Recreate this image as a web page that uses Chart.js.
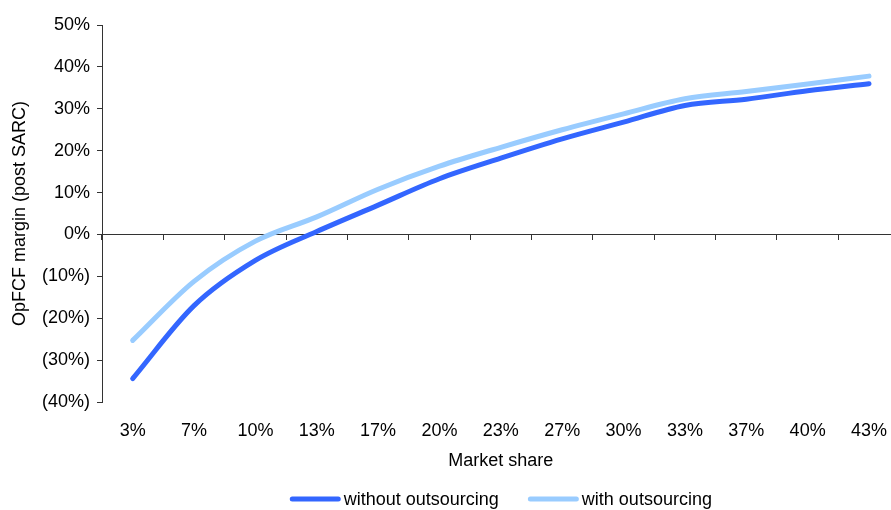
<!DOCTYPE html>
<html>
<head>
<meta charset="utf-8">
<script src="https://cdn.jsdelivr.net/npm/chart.js@4.4.1/dist/chart.umd.min.js"></script>
<style>
  html, body { margin: 0; padding: 0; background: #fff; overflow: hidden; width: 891px; height: 510px; }
  #wrap { width: 905px; height: 510px; }
</style>
</head>
<body>
<div id="wrap"><canvas id="c" width="905" height="510"></canvas></div>
<script>
// Market share categories (x axis)
const marketShare = ['3%', '7%', '10%', '13%', '17%', '20%', '23%', '27%', '30%', '33%', '37%', '40%', '43%'];
// OpFCF margin (post SARC), in percent
const withoutOutsourcing = [-34.4, -17.0, -6.2, 0.7, 7.0, 13.3, 18.2, 22.8, 26.8, 30.8, 32.3, 34.3, 36.0];
const withOutsourcing = [-25.3, -11.2, -1.6, 4.2, 10.8, 16.3, 20.8, 25.0, 28.8, 32.4, 34.1, 35.9, 37.8];
// Y axis range and step
const yMin = -40, yMax = 50, yStep = 10;

const FONT = 'Liberation Sans, Arial, sans-serif';
const FONT_SIZE = 18;

// Legend drawn under the plot, centred on the plotting area
const bottomLegend = {
  id: 'bottomLegend',
  afterDraw(chart) {
    const ctx = chart.ctx;
    const area = chart.chartArea;
    const sample = 51, gap = 3, itemGap = 29;
    ctx.save();
    ctx.font = FONT_SIZE + 'px ' + FONT;
    const items = chart.data.datasets.map(ds => ({
      label: ds.label, color: ds.borderColor, w: sample + gap + ctx.measureText(ds.label).width
    }));
    const total = items.reduce((s, it) => s + it.w, 0) + itemGap * (items.length - 1);
    let x = (area.left + area.right) / 2 - total / 2;
    const y = 500;
    items.forEach(it => {
      ctx.strokeStyle = it.color;
      ctx.lineWidth = 5;
      ctx.lineCap = 'round';
      ctx.beginPath();
      ctx.moveTo(x + 2.5, y - 1);
      ctx.lineTo(x + sample - 2.5, y - 1);
      ctx.stroke();
      ctx.fillStyle = '#000';
      ctx.textBaseline = 'middle';
      ctx.textAlign = 'left';
      ctx.fillText(it.label, x + sample + gap, y);
      x += it.w + itemGap;
    });
    ctx.restore();
  }
};

new Chart(document.getElementById('c'), {
  type: 'line',
  data: {
    labels: marketShare,
    datasets: [
      {
        label: 'without outsourcing',
        data: withoutOutsourcing,
        borderColor: '#3366FF',
        backgroundColor: '#3366FF',
        borderWidth: 5,
        borderCapStyle: 'round',
        borderJoinStyle: 'round',
        pointRadius: 0,
        cubicInterpolationMode: 'monotone',
        fill: false
      },
      {
        label: 'with outsourcing',
        data: withOutsourcing,
        borderColor: '#99CCFF',
        backgroundColor: '#99CCFF',
        borderWidth: 5,
        borderCapStyle: 'round',
        borderJoinStyle: 'round',
        pointRadius: 0,
        cubicInterpolationMode: 'monotone',
        fill: false
      }
    ]
  },
  options: {
    responsive: false,
    animation: false,
    devicePixelRatio: 1,
    layout: { padding: { top: 25, left: 0, right: 0, bottom: 38 } },
    plugins: {
      legend: { display: false },
      tooltip: { enabled: false }
    },
    font: { family: FONT, size: FONT_SIZE },
    scales: {
      x: {
        type: 'category',
        position: 'bottom',
        offset: true,
        border: { display: false },
        grid: { display: false, drawTicks: false, offset: true },
        ticks: { color: '#000', font: { family: FONT, size: FONT_SIZE }, padding: 18, maxRotation: 0, autoSkip: false },
        title: { display: true, text: 'Market share', color: '#000', font: { family: FONT, size: FONT_SIZE }, padding: { top: 0, bottom: 0 } },
        afterFit(scale) { scale.height = 70; }
      },
      xZero: {
        type: 'category',
        position: { y: 0 },
        offset: true,
        border: { display: true, color: '#333', width: 1 },
        grid: { display: true, drawOnChartArea: false, drawTicks: true, tickLength: 5, offset: true, color: '#333' },
        ticks: { display: false }
      },
      y: {
        min: yMin,
        max: yMax,
        border: { display: true, color: '#333', width: 1 },
        grid: { display: true, drawOnChartArea: false, drawTicks: true, tickLength: 5, color: '#333' },
        ticks: {
          stepSize: yStep,
          color: '#000',
          padding: 7,
          font: { family: FONT, size: FONT_SIZE },
          callback: v => v < 0 ? '(' + Math.abs(v) + '%)' : v + '%'
        },
        title: { display: true, text: 'OpFCF margin (post SARC)', color: '#000', font: { family: FONT, size: FONT_SIZE }, padding: { top: 9, bottom: 0 } },
        afterFit(scale) { scale.width = 102; }
      }
    }
  },
  plugins: [bottomLegend]
});
</script>
</body>
</html>
